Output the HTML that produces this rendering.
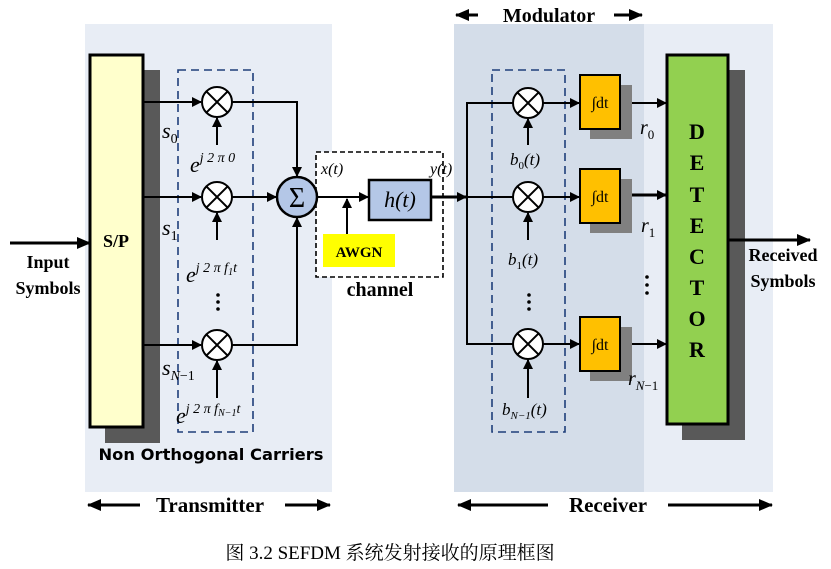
<!DOCTYPE html>
<html><head><meta charset="utf-8"><style>
html,body{margin:0;padding:0;background:#fff;}
svg{display:block;}
text{font-family:"Liberation Serif","Noto Serif CJK SC",serif;}
</style></head><body>
<svg width="831" height="569" viewBox="0 0 831 569" xmlns="http://www.w3.org/2000/svg">
<defs>
<marker id="a" markerWidth="10" markerHeight="10" refX="9" refY="5" orient="auto" markerUnits="userSpaceOnUse"><path d="M0,0 L10,5 L0,10 Z" fill="#000"/></marker>
<marker id="b" markerWidth="14" markerHeight="12" refX="13" refY="6" orient="auto" markerUnits="userSpaceOnUse"><path d="M0,0 L14,6 L0,12 Z" fill="#000"/></marker>
<g id="mul"><circle r="15" fill="#fff" stroke="#000" stroke-width="2"/><path d="M-10.6,-10.6 L10.6,10.6 M-10.6,10.6 L10.6,-10.6" stroke="#000" stroke-width="2"/></g>
</defs>
<rect x="85" y="24" width="247" height="468" fill="#e8edf5"/>
<rect x="454" y="24" width="190" height="468" fill="#d4dde9"/>
<rect x="644" y="24" width="129" height="468" fill="#e8edf5"/>

<line x1="10" y1="243" x2="90" y2="243" stroke="#000" stroke-width="3" marker-end="url(#b)"/>
<text x="48" y="268" font-size="18" font-weight="bold" text-anchor="middle">Input</text>
<text x="48" y="294" font-size="18" font-weight="bold" text-anchor="middle">Symbols</text>

<rect x="105" y="70" width="55" height="373" fill="#595959"/>
<rect x="90" y="55" width="53" height="372" fill="#ffffcc" stroke="#000" stroke-width="3"/>
<text x="116" y="247" font-size="18" font-weight="bold" text-anchor="middle">S/P</text>

<rect x="178" y="70" width="75" height="362" fill="none" stroke="#1f3e7a" stroke-width="1.6" stroke-dasharray="8,5"/>

<g stroke="#000" stroke-width="2" fill="none">
<line x1="143" y1="102" x2="201" y2="102" marker-end="url(#a)"/>
<line x1="143" y1="197" x2="201" y2="197" marker-end="url(#a)"/>
<line x1="143" y1="345" x2="201" y2="345" marker-end="url(#a)"/>
<line x1="217" y1="145" x2="217" y2="118" marker-end="url(#a)"/>
<line x1="217" y1="240" x2="217" y2="213" marker-end="url(#a)"/>
<line x1="217" y1="398" x2="217" y2="361" marker-end="url(#a)"/>
<polyline points="232,102 297,102 297,176" marker-end="url(#a)"/>
<polyline points="232,345 297,345 297,218" marker-end="url(#a)"/>
<line x1="232" y1="197" x2="276" y2="197" marker-end="url(#a)"/>
</g>
<use href="#mul" x="217" y="102"/>
<use href="#mul" x="217" y="197"/>
<use href="#mul" x="217" y="345"/>

<g font-style="italic" font-size="22">
<text x="162" y="138">s<tspan font-size="14" font-style="normal" dy="5">0</tspan></text>
<text x="162" y="235">s<tspan font-size="14" font-style="normal" dy="5">1</tspan></text>
<text x="162" y="375">s<tspan font-size="14" dy="5">N</tspan><tspan font-size="14" font-style="normal">−1</tspan></text>
<text x="190" y="172">e<tspan font-size="14" dy="-10">j 2 π 0</tspan></text>
<text x="186" y="282">e<tspan font-size="14" dy="-10">j 2 π f</tspan><tspan font-size="10" dy="3">1</tspan><tspan font-size="14" dy="-3">t</tspan></text>
<text x="176" y="423">e<tspan font-size="14" dy="-10">j 2 π f</tspan><tspan font-size="10" dy="3">N−1</tspan><tspan font-size="14" dy="-3">t</tspan></text>
</g>
<g fill="#000"><circle cx="218" cy="295" r="1.8"/><circle cx="218" cy="302" r="1.8"/><circle cx="218" cy="309" r="1.8"/></g>
<text x="211" y="460" font-size="16" font-weight="bold" text-anchor="middle" style="font-family:'DejaVu Sans','Liberation Sans',sans-serif" textLength="225" lengthAdjust="spacingAndGlyphs">Non Orthogonal Carriers</text>

<rect x="316" y="152" width="127" height="125" fill="#fff" stroke="#000" stroke-width="1.6" stroke-dasharray="5,3"/>
<circle cx="297" cy="197" r="20" fill="#b4c7e7" stroke="#000" stroke-width="2.5"/>
<text x="297" y="207" font-size="28" text-anchor="middle">Σ</text>
<line x1="317" y1="197" x2="368" y2="197" stroke="#000" stroke-width="2" marker-end="url(#a)"/>
<line x1="347" y1="234" x2="347" y2="199" stroke="#000" stroke-width="2" marker-end="url(#a)"/>
<rect x="369" y="180" width="62" height="40" fill="#b4c7e7" stroke="#000" stroke-width="2.5"/>
<text x="400" y="207" font-size="22" font-style="italic" text-anchor="middle">h(t)</text>
<rect x="323" y="234" width="72" height="33" fill="#ffff00"/>
<text x="359" y="257" font-size="15" font-weight="bold" text-anchor="middle">AWGN</text>
<text x="321" y="174" font-size="16" font-style="italic">x(t)</text>
<text x="430" y="174" font-size="16" font-style="italic">y(t)</text>
<text x="380" y="296" font-size="20" font-weight="bold" text-anchor="middle">channel</text>

<rect x="492" y="70" width="73" height="362" fill="none" stroke="#1f3e7a" stroke-width="1.6" stroke-dasharray="8,5"/>
<g stroke="#000" stroke-width="2" fill="none">
<line x1="431" y1="197" x2="466" y2="197" stroke-width="3" marker-end="url(#a)"/>
<polyline points="513,103 467,103 467,344 513,344"/>
<line x1="467" y1="197" x2="513" y2="197"/>
<line x1="543" y1="103" x2="579" y2="103" marker-end="url(#a)"/>
<line x1="543" y1="197" x2="579" y2="197" marker-end="url(#a)"/>
<line x1="543" y1="344" x2="579" y2="344" marker-end="url(#a)"/>
<line x1="528" y1="145" x2="528" y2="119" marker-end="url(#a)"/>
<line x1="528" y1="240" x2="528" y2="213" marker-end="url(#a)"/>
<line x1="528" y1="398" x2="528" y2="360" marker-end="url(#a)"/>
<line x1="620" y1="103" x2="666" y2="103" marker-end="url(#a)"/>
<line x1="620" y1="195" x2="666" y2="195" stroke-width="3" marker-end="url(#a)"/>
<line x1="620" y1="344" x2="666" y2="344" marker-end="url(#a)"/>
</g>
<use href="#mul" x="528" y="103"/>
<use href="#mul" x="528" y="197"/>
<use href="#mul" x="528" y="344"/>
<g font-style="italic" font-size="17">
<text x="510" y="165">b<tspan font-size="11" font-style="normal" dy="4">0</tspan><tspan dy="-4">(t)</tspan></text>
<text x="508" y="265">b<tspan font-size="11" font-style="normal" dy="4">1</tspan><tspan dy="-4">(t)</tspan></text>
<text x="502" y="415">b<tspan font-size="11" dy="4">N−1</tspan><tspan dy="-4">(t)</tspan></text>
</g>
<g fill="#000"><circle cx="529" cy="295" r="1.8"/><circle cx="529" cy="302" r="1.8"/><circle cx="529" cy="309" r="1.8"/>
<circle cx="647" cy="277" r="1.8"/><circle cx="647" cy="285" r="1.8"/><circle cx="647" cy="293" r="1.8"/></g>

<g>
<rect x="590" y="85" width="42" height="54" fill="#808080"/>
<rect x="580" y="75" width="40" height="54" fill="#ffc000" stroke="#000" stroke-width="2"/>
<text x="600" y="108" font-size="16" text-anchor="middle">∫dt</text>
<rect x="590" y="179" width="42" height="54" fill="#808080"/>
<rect x="580" y="169" width="40" height="54" fill="#ffc000" stroke="#000" stroke-width="2"/>
<text x="600" y="202" font-size="16" text-anchor="middle">∫dt</text>
<rect x="590" y="327" width="42" height="54" fill="#808080"/>
<rect x="580" y="317" width="40" height="54" fill="#ffc000" stroke="#000" stroke-width="2"/>
<text x="600" y="350" font-size="16" text-anchor="middle">∫dt</text>
</g>
<g font-style="italic" font-size="20">
<text x="640" y="134">r<tspan font-size="13" font-style="normal" dy="5">0</tspan></text>
<text x="641" y="232">r<tspan font-size="13" font-style="normal" dy="5">1</tspan></text>
<text x="628" y="385">r<tspan font-size="13" dy="5">N</tspan><tspan font-size="13" font-style="normal">−1</tspan></text>
</g>

<rect x="682" y="70" width="63" height="370" fill="#595959"/>
<rect x="667" y="55" width="61" height="369" fill="#92d050" stroke="#000" stroke-width="3"/>
<g font-size="22" font-weight="bold" text-anchor="middle">
<text x="697" y="139">D</text><text x="697" y="170">E</text><text x="697" y="202">T</text><text x="697" y="233">E</text><text x="697" y="264">C</text><text x="697" y="295">T</text><text x="697" y="326">O</text><text x="697" y="357">R</text>
</g>
<line x1="728" y1="240" x2="810" y2="240" stroke="#000" stroke-width="3" marker-end="url(#b)"/>
<text x="783" y="261" font-size="18" font-weight="bold" text-anchor="middle">Received</text>
<text x="783" y="287" font-size="18" font-weight="bold" text-anchor="middle">Symbols</text>

<line x1="478" y1="15" x2="456" y2="15" stroke="#000" stroke-width="3" marker-end="url(#b)"/>
<text x="549" y="22" font-size="20" font-weight="bold" text-anchor="middle">Modulator</text>
<line x1="614" y1="15" x2="642" y2="15" stroke="#000" stroke-width="3" marker-end="url(#b)"/>

<line x1="140" y1="505" x2="88" y2="505" stroke="#000" stroke-width="3" marker-end="url(#b)"/>
<text x="210" y="512" font-size="21" font-weight="bold" text-anchor="middle">Transmitter</text>
<line x1="285" y1="505" x2="330" y2="505" stroke="#000" stroke-width="3" marker-end="url(#b)"/>
<line x1="548" y1="505" x2="458" y2="505" stroke="#000" stroke-width="3" marker-end="url(#b)"/>
<text x="608" y="512" font-size="21" font-weight="bold" text-anchor="middle">Receiver</text>
<line x1="668" y1="505" x2="772" y2="505" stroke="#000" stroke-width="3" marker-end="url(#b)"/>

<text x="390" y="559" font-size="19" text-anchor="middle">图 3.2 SEFDM 系统发射接收的原理框图</text>
</svg>
</body></html>
